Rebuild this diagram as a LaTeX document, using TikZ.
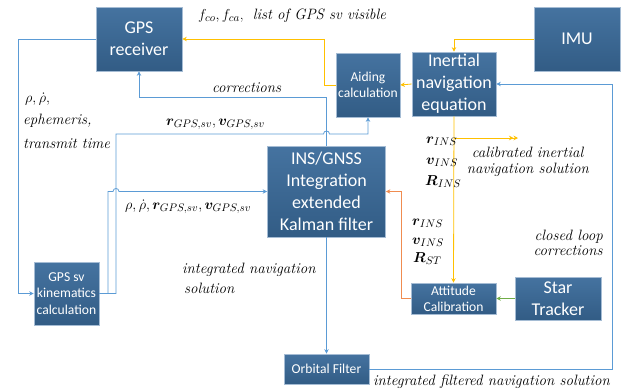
\documentclass[tikz,border=0pt]{standalone}
\usepackage{amsmath,bm}
\usepackage{fontspec}
\newfontfamily\boxfont{Carlito}
\usetikzlibrary{arrows.meta}

\definecolor{boxtop}{RGB}{69,115,160}
\definecolor{boxbot}{RGB}{50,92,133}
\definecolor{boxedge}{RGB}{165,188,212}
\definecolor{lblue}{RGB}{91,155,213}
\definecolor{lyellow}{RGB}{255,192,0}
\definecolor{lorange}{RGB}{240,140,80}
\definecolor{lgreen}{RGB}{112,173,71}

\tikzset{
  blk/.style={draw=boxedge, line width=0.7pt, top color=boxtop, bottom color=boxbot,
    text=white, align=center, inner sep=0pt, font=\boxfont},
  bigtxt/.style={font=\boxfont\fontsize{18}{22}\selectfont},
  smalltxt/.style={font=\boxfont\fontsize{13.6}{16.3}\selectfont},
  link/.style={line width=0.8pt, -{Stealth[length=4.5pt,width=4.5pt]}},
  lbl/.style={inner sep=0pt, font=\fontsize{15}{17}\selectfont},
}

\begin{document}
\begin{tikzpicture}[x=1pt,y=-1pt]
\path[use as bounding box] (0,0) rectangle (630,389);

% blocks
\node[blk,bigtxt,minimum width=86pt,minimum height=64pt] (gps) at (139,39) {GPS\\receiver};
\node[blk,bigtxt,minimum width=86pt,minimum height=64pt] (imu) at (577,39) {IMU};
\node[blk,smalltxt,minimum width=64pt,minimum height=64pt] (aid) at (368,85) {Aiding\\calculation};
\node[blk,bigtxt,minimum width=84pt,minimum height=64pt] (ine) at (454,84) {Inertial\\navigation\\equation};
\node[blk,bigtxt,minimum width=118pt,minimum height=91pt] (kf) at (326.5,191.5) {INS/GNSS\\Integration\\extended\\Kalman filter};
\node[blk,smalltxt,minimum width=65pt,minimum height=63pt] (kin) at (66.5,293.5) {GPS sv\\kinematics\\calculation};
\node[blk,smalltxt,minimum width=85pt,minimum height=30pt] (orb) at (326.5,369) {Orbital Filter};
\node[blk,smalltxt,minimum width=85pt,minimum height=31pt] (att) at (453.5,298.5) {Attitude\\Calibration};
\node[blk,bigtxt,minimum width=86pt,minimum height=43pt] (star) at (558,298.5) {Star\\Tracker};

% inertial chain (yellow)
\draw[link,lyellow] (imu.west) -| (ine.north);
\draw[link,lyellow] (ine.west) -- (aid.east);
\draw[link,lyellow] (aid.west) -- ++(-11,0) |- (gps.east);
\draw[link,lyellow] (ine.south) -- (att.north);
\coordinate (calout) at (518,138);
\draw[line width=0.8pt,lyellow,-{Stealth[length=4.5pt,width=4.5pt]Stealth[length=4.5pt,width=4.5pt]}]
  (ine.south |- calout) -- (calout);

% star tracker and attitude calibration
\draw[link,lgreen] (star.west) -- (att.east);
\draw[link,lorange] (att.west) -- ++(-9,0) |- (kf.east);

% filter outputs (blue)
\draw[link,lblue] (kf.south) -- (orb.north);
\draw[link,lblue] (orb.east) -- (612,369) |- (ine.east);
\draw[link,lblue] (kf.north) -- (kf.north |- 0,97) -| (gps.south);
\draw[link,lblue] (gps.west) -- (18,39) |- (kin.west);

% kinematics outputs, with hops over crossing lines
\draw[link,lblue] (kin.east) -- (108,293.5) -- (108,191.5) -- (113,191.5)
  .. controls (113,187.5) and (119,187.5) .. (119,191.5) -- (kf.west);
\draw[link,lblue] (kin.east) -- (116,293.5) -- (116,134) -- (323.5,134)
  .. controls (323.5,130) and (329.5,130) .. (329.5,134) -| (aid.south);

% labels
\node[lbl,anchor=base west] at (198,19) {$f_{co}, f_{ca}$,\ \ \textit{list of GPS sv visible}};
\node[lbl,anchor=base west] at (212,92) {\textit{corrections}};
\node[lbl,anchor=base west] at (166,125) {$\bm{r}_{GPS,sv},\bm{v}_{GPS,sv}$};
\node[lbl,anchor=base west] at (25,102) {$\rho,\dot{\rho},$};
\node[lbl,anchor=base west] at (23,124) {\textit{ephemeris,}};
\node[lbl,anchor=base west] at (23,148) {\textit{transmit time}};
\node[lbl,anchor=base west] at (125,209) {$\rho,\dot{\rho},\bm{r}_{GPS,sv},\bm{v}_{GPS,sv}$};
\node[lbl,anchor=base west] at (182,273) {\textit{integrated navigation}};
\node[lbl,anchor=base west] at (184,293) {\textit{solution}};
\node[lbl,anchor=base west] at (426,143) {$\bm{r}_{INS}$};
\node[lbl,anchor=base west] at (426,164) {$\bm{v}_{INS}$};
\node[lbl,anchor=base west] at (425,185) {$\bm{R}_{INS}$};
\node[lbl,anchor=base] at (528,157) {\textit{calibrated inertial}};
\node[lbl,anchor=base] at (528,173) {\textit{navigation solution}};
\node[lbl,anchor=base west] at (412,225) {$\bm{r}_{INS}$};
\node[lbl,anchor=base west] at (412,244) {$\bm{v}_{INS}$};
\node[lbl,anchor=base west] at (413,262) {$\bm{R}_{ST}$};
\node[lbl,anchor=base east] at (603,240) {\textit{closed loop}};
\node[lbl,anchor=base east] at (603,255) {\textit{corrections}};
\node[lbl,anchor=base west] at (373,385) {\textit{integrated filtered navigation solution}};
\end{tikzpicture}
\end{document}
